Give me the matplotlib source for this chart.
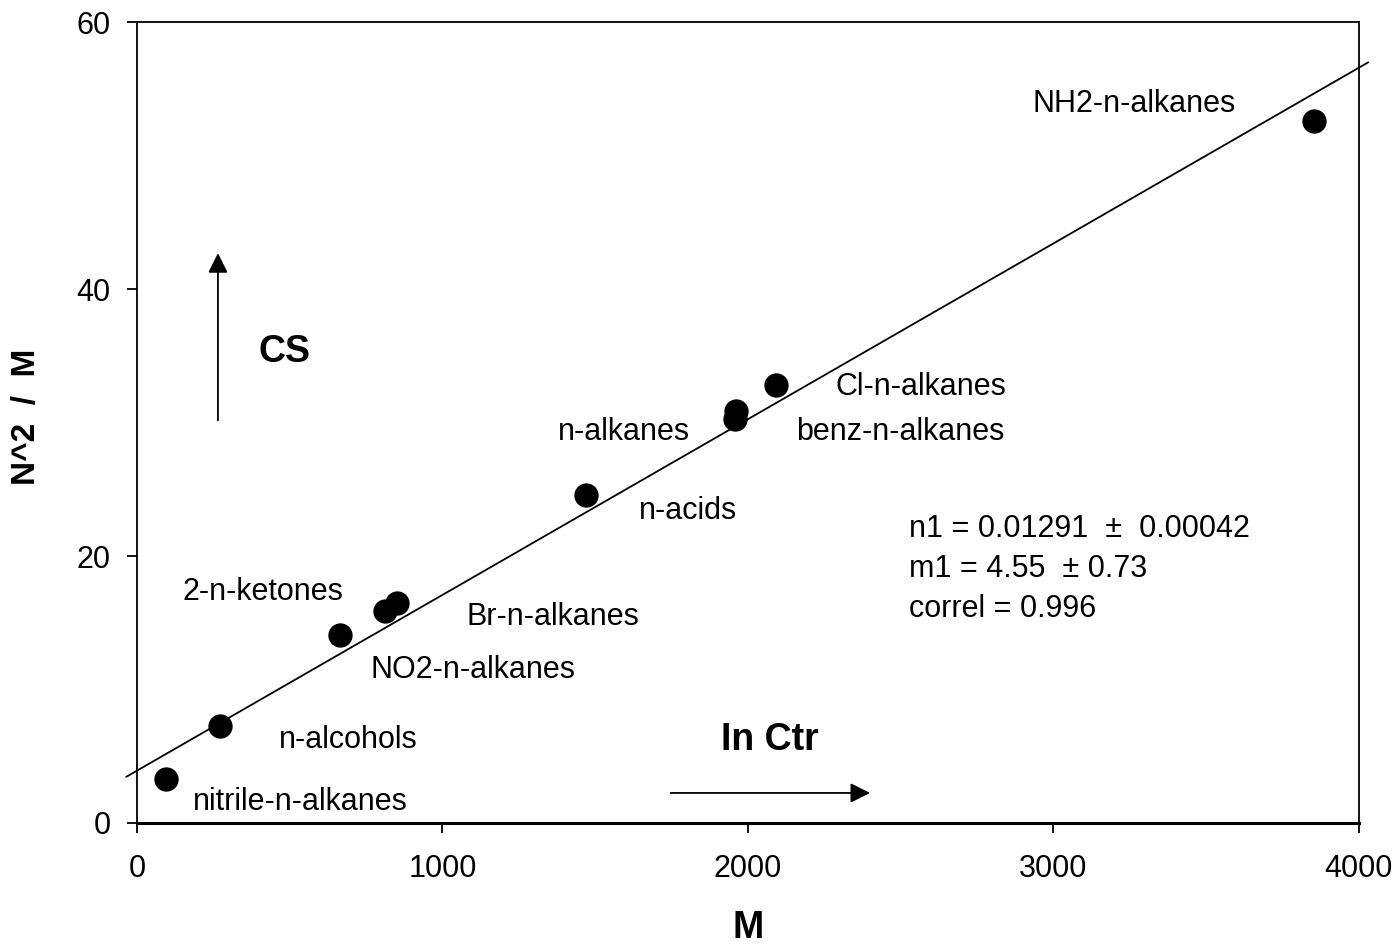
from matplotlib import pyplot as plt

# Data
series = ["nitrile-n-alkanes", "n-alcohols", "2-n-ketones", "NO2-n-alkanes",
          "Br-n-alkanes", "n-alkanes", "n-acids", "benz-n-alkanes",
          "Cl-n-alkanes", "NH2-n-alkanes"]
mValues = [95, 272, 664, 811, 850, 1470, 1958, 1961, 2092, 3854]
nsqValues = [3.27, 7.29, 14.08, 15.88, 16.46, 24.57, 30.3, 30.9, 32.8, 52.6]

# Fitted line as drawn (ends)
lineX = [-35, 4030]
lineY = [3.46, 56.98]

# Label positions (left edge, vertical centre)
labelText = ["NH2-n-alkanes", "Cl-n-alkanes", "benz-n-alkanes", "n-alkanes",
             "n-acids", "2-n-ketones", "Br-n-alkanes", "NO2-n-alkanes",
             "n-alcohols", "nitrile-n-alkanes"]
labelX = [2933, 2288, 2157, 1378, 1643, 150, 1080, 763, 465, 183]
labelY = [53.9, 32.66, 29.3, 29.3, 23.4, 17.3, 15.4, 11.46, 6.2, 1.57]

statsLines = ["n1 = 0.01291  \u00b1  0.00042", "m1 = 4.55  \u00b1 0.73", "correl = 0.996"]
statsY = [22.0, 19.0, 16.0]

xTicks = [0, 1000, 2000, 3000, 4000]
yTicks = [0, 20, 40, 60]

plt.rcParams['font.family'] = ['Liberation Sans', 'DejaVu Sans']

fig = plt.figure(figsize=(13.98, 9.5), dpi=100)
ax = fig.add_axes([0.098, 0.1337, 0.874, 0.843])

ax.plot(lineX, lineY, color='k', linewidth=1.3, clip_on=False)
ax.plot(mValues, nsqValues, 'o', color='k', markersize=16.5, clip_on=False)

for t, x, y in zip(labelText, labelX, labelY):
    ax.text(x, y, t, fontsize=22, ha='left', va='center')

for t, y in zip(statsLines, statsY):
    ax.text(2527, y, t, fontsize=22, ha='left', va='center')

# Arrows and bold annotations
ax.annotate("", xy=(265, 42.9), xytext=(265, 29.96),
            arrowprops=dict(arrowstyle='-|>', color='k', lw=1.3, mutation_scale=30))
ax.annotate("", xy=(2409, 2.25), xytext=(1738, 2.25),
            arrowprops=dict(arrowstyle='-|>', color='k', lw=1.3, mutation_scale=30))
ax.text(484, 35.3, "CS", fontsize=27, fontweight='bold', ha='center', va='center')
ax.text(2072, 6.2, "In Ctr", fontsize=27, fontweight='bold', ha='center', va='center')

ax.set_xlim(0, 4000)
ax.set_ylim(0, 60)
ax.set_xticks(xTicks)
ax.set_yticks(yTicks)
ax.tick_params(direction='out', length=7, width=1.3, labelsize=22, pad=12)
ax.tick_params(axis='x', pad=15)

for s in ax.spines.values():
    s.set_linewidth(1.3)
ax.spines['bottom'].set_linewidth(2.2)

ax.set_xlabel("M", fontsize=27, fontweight='bold')
ax.set_ylabel("N^2  /  M", fontsize=24, fontweight='bold')
ax.xaxis.set_label_coords(0.5, -0.1086)
ax.yaxis.set_label_coords(-0.078, 0.507)

plt.savefig("out.png", dpi=100)
